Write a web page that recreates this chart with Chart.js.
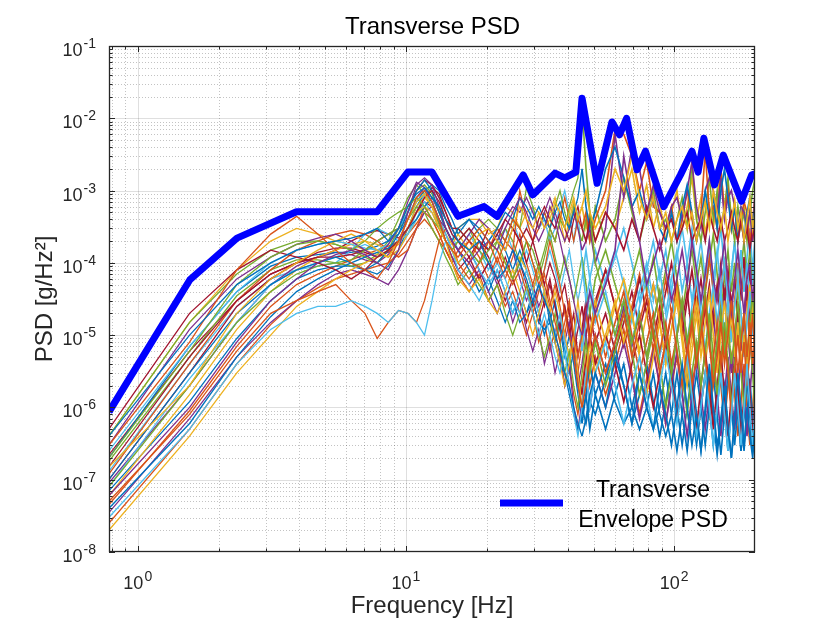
<!DOCTYPE html>
<html>
<head>
<meta charset="utf-8">
<title>Transverse PSD</title>
<script src="https://cdn.jsdelivr.net/npm/chart.js@4.4.1/dist/chart.umd.min.js"></script>
<style>
  html, body { margin: 0; padding: 0; background: #ffffff; }
  canvas { display: block; }
</style>
</head>
<body>
<canvas id="psdChart" width="834" height="626" style="width:834px;height:626px"></canvas>
<script>
// ---------------- data ----------------
const freqs = [
  0.78, 1.56, 2.34, 3.13, 3.91, 4.69, 5.47, 6.25, 7.03, 7.81, 8.59, 9.38, 10.16, 10.94, 11.72, 12.5, 13.28, 14.06, 14.84,
  15.63, 17.19, 18.75, 20.31, 21.88, 23.44, 25, 26.56, 28.13, 29.69, 31.25, 32.81, 34.38, 35.94, 37.5, 39.06, 40.63, 42.19, 43.75, 45.31, 46.88, 48.44,
  50.78, 55.47, 60.16, 64.84, 69.53, 74.22, 78.91, 83.59, 88.28, 92.97, 97.66, 102.34, 107.03, 111.72, 116.41, 121.09, 125.78,
  130.47, 135.16, 139.84, 144.53, 149.22, 153.91, 158.59, 163.28, 167.97, 172.66, 177.34, 182.03, 186.72, 191.41, 196.09, 200
];

const envFreqs = [0.78125, 1.5625, 2.34375, 3.90625, 7.8125, 10.15625, 12.5, 15.625, 19.53, 21.88, 27.34, 29.69, 35.94, 39.06, 42.97, 45.31,
  51.56, 58.59, 62.5, 66.41, 72.66, 78.13, 91.41, 105.47, 116.41, 122.66, 128.91, 141.41, 152.34, 178.13, 194.53, 200];
const envValues = [8.7e-7, 5.8e-5, 2.2e-4, 5.1e-4, 5.1e-4, 1.8e-3, 1.8e-3, 4.4e-4, 6e-4, 4.4e-4, 1.65e-3, 8.7e-4, 1.74e-3, 1.5e-3, 1.8e-3, 1.9e-2,
  1.26e-3, 8.9e-3, 5.9e-3, 1e-2, 1.94e-3, 3.5e-3, 6e-4, 1.65e-3, 3.5e-3, 1.8e-3, 5.3e-3, 1.2e-3, 3.1e-3, 7.1e-4, 1.65e-3, 1.7e-3];

const psd01 = [
  4e-7, 1e-5, 5e-5, 1e-4, 1.5e-4, 1.8e-4, 2e-4, 2.2e-4, 2.5e-4, 3e-4, 2e-4, 3e-4, 6e-4, 9e-4, 1.1e-3, 8e-4, 6e-4, 4e-4, 3e-4,
  2e-4, 1.5e-4, 2e-4, 1e-4, 6e-5, 8e-5, 1.5e-4, 1e-4, 6e-5, 3e-5, 5e-5, 3e-5, 2e-5, 1e-5, 6e-6, 3e-6, 2e-6, 1e-6, 6e-7, 4e-7, 7e-7, 1.5e-6,
  3e-6, 1e-6, 5e-6, 2e-6, 6e-7, 3e-6, 1e-6, 5e-7, 2e-6, 8e-7, 3e-7, 1e-6, 4e-6, 1e-6, 3e-7, 8e-7, 2.5e-7,
  1e-6, 4e-6, 1e-6, 3e-7, 6e-7, 2e-6, 5e-7, 2e-7, 8e-7, 3e-6, 1e-6, 3e-7, 1e-6, 4e-7, 2e-7, 6e-7
];
const psd02 = [
  3e-7, 8e-6, 8e-5, 2.5e-4, 4.4e-4, 2.5e-4, 1.5e-4, 1e-4, 8e-5, 6e-5, 1e-4, 2e-4, 4e-4, 8e-4, 1e-3, 7e-4, 4e-4, 2e-4, 1.5e-4,
  1.2e-4, 2e-4, 3e-4, 2e-4, 1e-4, 2e-4, 4e-4, 3e-4, 2e-4, 1e-4, 5e-5, 8e-5, 2e-4, 1e-4, 5e-5, 2e-5, 1e-5, 5e-6, 2e-6, 1e-6, 2e-6, 5e-6,
  1e-5, 3e-6, 8e-6, 2e-5, 5e-6, 1.5e-5, 4e-5, 1e-5, 3e-6, 8e-6, 2e-5, 6e-6, 2e-6, 6e-6, 1.5e-5, 4e-6, 1e-5,
  3e-5, 8e-6, 2e-6, 5e-6, 1.5e-5, 4e-6, 1e-5, 3e-5, 1e-5, 3e-6, 8e-6, 2e-5, 5e-6, 1.5e-5, 4e-6, 1e-5
];
const psd03 = [
  1.5e-7, 2e-6, 2e-5, 6e-5, 1e-4, 1.5e-4, 2e-4, 2.5e-4, 2e-4, 1.5e-4, 1.2e-4, 2e-4, 4e-4, 7e-4, 9e-4, 6e-4, 3e-4, 2e-4, 1.5e-4,
  1e-4, 1.5e-4, 2.5e-4, 3e-4, 2e-4, 1.5e-4, 3e-4, 6e-4, 4e-4, 3e-4, 5e-4, 3e-4, 4e-4, 7e-4, 5e-4, 3e-4, 5e-4, 8e-4, 4e-4, 6e-4, 1e-3, 5e-4,
  3e-4, 6e-4, 2e-3, 1e-3, 3e-3, 8e-4, 4e-4, 8e-4, 3e-4, 5e-4, 2e-4, 4e-4, 6e-4, 3e-4, 5e-4, 2e-4, 4e-4,
  7e-4, 3e-4, 1e-3, 5e-4, 3e-4, 6e-4, 2e-4, 4e-4, 7e-4, 3e-4, 5e-4, 2e-4, 4e-4, 8e-4, 3e-4, 5e-4
];
const psd04 = [
  6e-8, 1e-6, 8e-6, 3e-5, 6e-5, 1e-4, 1.3e-4, 1.5e-4, 1.3e-4, 1e-4, 8e-5, 1.5e-4, 5e-4, 1.2e-3, 1.5e-3, 1.2e-3, 6e-4, 3e-4, 2e-4,
  1.5e-4, 1e-4, 1.5e-4, 2e-4, 1.5e-4, 3e-4, 5e-4, 8e-4, 5e-4, 3e-4, 2e-4, 3e-4, 6e-4, 4e-4, 2e-4, 1e-4, 6e-5, 3e-5, 1.5e-5, 1e-5, 2e-5, 4e-5,
  2e-5, 5e-5, 1.5e-4, 3e-3, 6e-4, 2e-4, 5e-5, 1e-4, 2e-4, 8e-5, 3e-5, 6e-5, 1.5e-4, 5e-5, 2e-4, 8e-5, 3e-5,
  7e-5, 2e-4, 6e-5, 3e-5, 8e-5, 2e-4, 5e-5, 2e-5, 6e-5, 1.5e-4, 5e-5, 2e-5, 6e-5, 1e-4, 3e-5, 7e-5
];
const psd05 = [
  2e-7, 6e-6, 5e-5, 1.2e-4, 1.8e-4, 2e-4, 1.8e-4, 1.5e-4, 2e-4, 3e-4, 4e-4, 5e-4, 6e-4, 8e-4, 6e-4, 4e-4, 3e-4, 2e-4, 1.5e-4,
  2e-4, 1.5e-4, 1e-4, 1.5e-4, 2e-4, 1e-4, 6e-5, 1e-4, 2e-4, 1.5e-4, 8e-5, 1.5e-4, 3e-4, 2e-4, 4e-4, 3e-4, 6e-4, 1e-3, 1.5e-3, 1.5e-2, 2e-3, 5e-4,
  1e-4, 3e-5, 1e-5, 3e-5, 8e-6, 2e-5, 5e-6, 1.5e-5, 4e-5, 1e-5, 3e-6, 1e-5, 3e-5, 8e-6, 2e-5, 5e-6, 1.5e-5,
  4e-5, 1e-5, 3e-6, 8e-6, 2e-5, 6e-6, 1.5e-5, 4e-6, 1e-5, 3e-5, 8e-6, 2e-5, 5e-6, 1.5e-5, 4e-5, 1e-5
];
const psd06 = [
  3e-8, 5e-7, 4e-6, 1.2e-5, 2e-5, 2.5e-5, 2.5e-5, 3e-5, 2.5e-5, 2e-5, 1.5e-5, 2.2e-5, 2e-5, 1.5e-5, 1e-5, 3e-5, 1e-4, 2e-4, 1.5e-4,
  8e-5, 5e-5, 3e-5, 6e-5, 1e-4, 6e-5, 3e-5, 2e-5, 4e-5, 2e-5, 1e-5, 2e-5, 1e-5, 5e-6, 3e-6, 6e-6, 2e-6, 8e-7, 4e-7, 1e-6, 3e-6, 1e-6,
  3e-6, 8e-6, 2e-6, 6e-7, 2e-6, 5e-6, 1.5e-6, 5e-7, 2e-6, 6e-6, 2e-6, 6e-7, 2e-6, 5e-6, 1.5e-6, 4e-7, 1e-6,
  3e-6, 1e-6, 3e-7, 1e-6, 3e-6, 8e-7, 2.5e-7, 8e-7, 3e-6, 1e-6, 3e-7, 1e-6, 4e-6, 1e-6, 3e-7, 1e-6
];
const psd07 = [
  5e-7, 2e-5, 8e-5, 1.5e-4, 1.2e-4, 1e-4, 8e-5, 6e-5, 8e-5, 1.2e-4, 1.5e-4, 2e-4, 3e-4, 5e-4, 8e-4, 1e-3, 7e-4, 4e-4, 2.5e-4,
  2e-4, 3e-4, 2e-4, 1.5e-4, 2.5e-4, 4e-4, 3e-4, 2e-4, 3e-4, 2e-4, 4e-4, 6e-4, 4e-4, 3e-4, 5e-4, 3e-4, 2e-4, 4e-4, 6e-4, 3e-4, 2e-4, 4e-4,
  2e-4, 5e-4, 3e-4, 1.5e-4, 4e-4, 2e-4, 6e-4, 3e-4, 1.5e-4, 3e-4, 4e-4, 2e-4, 3e-4, 5e-4, 2e-4, 3e-4, 4e-4,
  2e-4, 5e-4, 3e-4, 2e-4, 4e-4, 2e-4, 3e-4, 5e-4, 3e-4, 2e-4, 4e-4, 2e-4, 3e-4, 1.5e-4, 3e-4, 2e-4
];
const psd08 = [
  1e-7, 3e-6, 2e-5, 5e-5, 8e-5, 1e-4, 1.2e-4, 1e-4, 8e-5, 1e-4, 1.5e-4, 2.5e-4, 5e-4, 1e-3, 1.4e-3, 1e-3, 5e-4, 3e-4, 2e-4,
  3e-4, 4e-4, 3e-4, 2e-4, 3e-4, 5e-4, 4e-4, 8e-4, 6e-4, 4e-4, 6e-4, 4e-4, 3e-4, 5e-4, 7e-4, 4e-4, 3e-4, 5e-4, 8e-4, 2e-3, 6e-4, 3e-4,
  5e-4, 2e-3, 4e-3, 1.5e-3, 6e-4, 1e-3, 4e-4, 8e-4, 3e-4, 2e-4, 5e-4, 2e-4, 6e-4, 1.2e-3, 5e-4, 2e-4, 4e-4,
  1e-3, 4e-4, 8e-4, 3e-4, 1e-3, 2e-3, 8e-4, 3e-4, 6e-4, 2e-4, 5e-4, 2e-4, 5e-4, 8e-4, 3e-4, 6e-4
];
const psd09 = [
  5e-8, 8e-7, 6e-6, 2e-5, 3e-5, 4e-5, 5e-5, 3e-5, 2e-5, 9e-6, 1.5e-5, 2.2e-5, 2e-5, 1.5e-5, 3e-5, 8e-5, 2e-4, 3e-4, 2e-4,
  1e-4, 6e-5, 1e-4, 2e-4, 1.5e-4, 8e-5, 5e-5, 8e-5, 4e-5, 2e-5, 4e-5, 7e-5, 3e-5, 1.5e-5, 8e-6, 1.5e-5, 3e-5, 1e-5, 5e-6, 1e-5, 2e-5, 8e-6,
  2e-5, 5e-6, 1.5e-5, 4e-5, 1e-5, 3e-6, 8e-6, 2e-5, 6e-6, 1.5e-5, 4e-6, 1e-5, 3e-5, 8e-6, 2e-6, 5e-6, 1.5e-5,
  5e-6, 1.5e-6, 5e-6, 1.5e-5, 4e-6, 1e-5, 3e-6, 8e-7, 3e-6, 1e-5, 3e-6, 8e-6, 2e-6, 6e-6, 2e-5, 5e-6
];
const psd10 = [
  2e-8, 4e-7, 3e-6, 1e-5, 2.5e-5, 4e-5, 6e-5, 8e-5, 1e-4, 1.2e-4, 1.5e-4, 2e-4, 3e-4, 5e-4, 6e-4, 5e-4, 3e-4, 2e-4, 1e-4,
  6e-5, 4e-5, 6e-5, 3e-5, 2e-5, 4e-5, 8e-5, 4e-5, 2e-5, 1e-5, 2e-5, 4e-5, 2e-5, 8e-6, 4e-6, 2e-6, 4e-6, 1e-5, 3e-6, 1e-6, 3e-6, 8e-6,
  3e-6, 1e-5, 3e-5, 8e-6, 2e-5, 5e-6, 1.5e-6, 5e-6, 1.5e-5, 4e-6, 1.2e-5, 3e-5, 8e-6, 2e-6, 6e-6, 2e-5, 5e-6,
  1.5e-5, 4e-5, 1e-5, 3e-6, 1e-5, 3e-5, 8e-6, 2e-5, 5e-6, 1.5e-5, 4e-6, 1e-5, 3e-6, 1e-5, 3e-5, 8e-6
];
const psd11 = [
  3e-7, 1.2e-5, 6e-5, 1.2e-4, 1.8e-4, 2.2e-4, 2.5e-4, 2e-4, 1.5e-4, 1.2e-4, 1.8e-4, 3e-4, 7e-4, 1.3e-3, 1.1e-3, 7e-4, 4e-4, 3e-4, 2e-4,
  1.5e-4, 2.5e-4, 4e-4, 3e-4, 2e-4, 4e-4, 6e-4, 5e-4, 8e-4, 5e-4, 3e-4, 5e-4, 8e-4, 5e-4, 3e-4, 2e-4, 3e-4, 5e-4, 3e-4, 1.5e-4, 2e-4, 3e-4,
  1e-4, 3e-4, 6e-3, 8e-4, 4e-3, 2e-3, 5e-4, 1.2e-3, 5e-4, 3e-4, 6e-4, 8e-4, 4e-4, 1e-3, 2.5e-3, 6e-4, 3e-4,
  1e-3, 1.5e-3, 1e-3, 5e-4, 1.5e-3, 4e-4, 8e-4, 1e-3, 6e-4, 3e-4, 6e-4, 5e-4, 3e-4, 5e-4, 2e-4, 1e-3
];
const psd12 = [
  8e-8, 2e-6, 1.5e-5, 4e-5, 7e-5, 9e-5, 1e-4, 1.1e-4, 1.5e-4, 2e-4, 2.5e-4, 3e-4, 4e-4, 6e-4, 5e-4, 3e-4, 2e-4, 1.2e-4, 8e-5,
  5e-5, 8e-5, 5e-5, 3e-5, 5e-5, 2e-5, 1e-5, 2e-5, 5e-5, 2e-5, 1e-5, 5e-6, 1e-5, 2e-5, 8e-6, 3e-6, 6e-6, 2e-6, 1e-6, 3e-6, 8e-6, 3e-6,
  8e-6, 2e-6, 6e-6, 2e-5, 6e-6, 1.5e-6, 4e-6, 1.2e-5, 4e-6, 1e-6, 3e-6, 1e-5, 3e-6, 8e-7, 3e-6, 8e-6, 2e-6,
  6e-6, 2e-5, 5e-6, 1.5e-6, 5e-6, 1.5e-5, 4e-6, 1e-6, 4e-6, 1.2e-5, 3e-6, 1e-6, 3e-6, 1e-5, 3e-6, 8e-7
];
const psd13 = [
  1.5e-7, 5e-6, 3e-5, 7e-5, 1e-4, 1.2e-4, 1.2e-4, 1.3e-4, 1.5e-4, 2e-4, 2.5e-4, 3e-4, 5e-4, 1e-3, 1.4e-3, 1.2e-3, 8e-4, 5e-4, 3e-4,
  3e-4, 2e-4, 1.5e-4, 3e-4, 2e-4, 1.5e-4, 3e-4, 2e-4, 1e-4, 2e-4, 1e-4, 5e-5, 1e-4, 6e-5, 3e-5, 5e-5, 2e-5, 8e-6, 3e-6, 1.5e-6, 4e-6, 1e-5,
  4e-6, 1e-5, 4e-6, 1.2e-6, 4e-6, 1e-5, 3e-6, 1e-6, 3e-6, 8e-6, 2.5e-6, 7e-7, 2e-6, 6e-6, 2e-6, 5e-7, 2e-6,
  6e-6, 2e-6, 5e-7, 2e-6, 6e-6, 1.5e-6, 4e-7, 1.5e-6, 5e-6, 1.5e-6, 4e-7, 1.5e-6, 5e-6, 1.5e-6, 4e-7, 1.5e-6
];
const psd14 = [
  2.5e-7, 7e-6, 4e-5, 1e-4, 1.5e-4, 1.8e-4, 2e-4, 1.8e-4, 1.6e-4, 1.5e-4, 1.8e-4, 3e-4, 5e-4, 7e-4, 9e-4, 7e-4, 4e-4, 2.5e-4, 1.5e-4,
  1e-4, 1.5e-4, 8e-5, 5e-5, 8e-5, 4e-5, 2e-5, 4e-5, 8e-5, 4e-5, 2e-5, 4e-5, 2e-5, 1e-5, 2e-5, 8e-6, 4e-6, 8e-6, 2e-5, 6e-6, 1.5e-5, 4e-5,
  1.5e-5, 4e-5, 1e-5, 3e-5, 8e-6, 2.5e-5, 6e-5, 2e-5, 5e-6, 1.5e-5, 4e-5, 1e-5, 3e-5, 8e-6, 2.5e-5, 6e-5, 2e-5,
  6e-6, 2e-5, 5e-5, 1.5e-5, 4e-5, 1e-5, 3e-5, 8e-6, 2.5e-5, 6e-5, 2e-5, 5e-6, 1.5e-5, 4e-5, 1e-5, 3e-5
];
const psd15 = [
  4e-8, 6e-7, 5e-6, 1.8e-5, 4e-5, 6e-5, 8e-5, 1e-4, 1.2e-4, 1.4e-4, 1.6e-4, 2e-4, 3e-4, 4e-4, 6e-4, 8e-4, 6e-4, 3e-4, 2e-4,
  1.5e-4, 8e-5, 4e-5, 6e-5, 3e-5, 1.5e-5, 3e-5, 1.5e-5, 2e-5, 3e-5, 1.5e-5, 1.2e-5, 1.5e-5, 8e-6, 4e-6, 3e-6, 1.5e-6, 8e-7, 5e-7, 8e-7, 1.5e-6, 5e-7,
  1.5e-6, 5e-7, 1.5e-6, 4e-6, 1e-6, 5e-7, 1e-6, 3e-6, 8e-7, 4e-7, 8e-7, 3e-6, 8e-7, 2.5e-7, 1e-6, 3e-6, 1e-6,
  3e-7, 1e-6, 3e-6, 8e-7, 2.2e-7, 8e-7, 3e-6, 1e-6, 3e-7, 1e-6, 2.5e-7, 8e-7, 3e-6, 8e-7, 2.5e-7, 4e-7
];
const psd16 = [
  1.2e-7, 4e-6, 3e-5, 8e-5, 1.5e-4, 2e-4, 2.5e-4, 2.8e-4, 2.5e-4, 2e-4, 1.5e-4, 1.2e-4, 1.5e-4, 3e-4, 6e-4, 4e-4, 2.5e-4, 1.5e-4, 1e-4,
  6e-5, 1e-4, 2e-4, 1.5e-4, 3e-4, 2e-4, 1.5e-4, 1e-3, 4e-4, 2e-4, 3e-4, 5e-4, 3e-4, 2e-4, 4e-4, 8e-4, 4e-4, 2e-4, 4e-4, 3e-4, 5e-4, 2e-4,
  4e-4, 1e-3, 7e-3, 6e-3, 3e-3, 1e-3, 2.5e-3, 6e-4, 5e-4, 3e-4, 6e-4, 2e-4, 4e-4, 1e-3, 4e-4, 2e-4, 5e-4,
  3.5e-3, 5e-4, 6e-4, 3e-4, 2e-3, 5e-4, 1e-3, 3e-4, 6e-4, 2e-4, 4e-4, 7e-4, 5e-4, 2e-4, 4e-4, 8e-4
];
const psd17 = [
  6e-8, 1.5e-6, 1.2e-5, 4e-5, 8e-5, 1.2e-4, 1.5e-4, 1.8e-4, 2e-4, 1.8e-4, 1.5e-4, 1.8e-4, 3e-4, 6e-4, 8e-4, 6e-4, 4e-4, 2.5e-4, 1.8e-4,
  2.5e-4, 1.5e-4, 1e-4, 2e-4, 1.5e-4, 1e-4, 6e-5, 1.2e-4, 8e-5, 4e-5, 8e-5, 4e-5, 2e-5, 4e-5, 2e-5, 1e-5, 5e-6, 1e-5, 3e-5, 1e-5, 4e-6, 1e-5,
  3e-5, 8e-6, 2.5e-5, 6e-5, 2e-5, 6e-6, 2e-5, 5e-5, 1.5e-5, 4e-6, 1.2e-5, 4e-5, 1e-5, 3e-6, 1e-5, 3e-5, 1e-5,
  4e-6, 1.2e-5, 4e-5, 1e-5, 3e-6, 1e-5, 3e-5, 8e-6, 2.5e-5, 6e-5, 2e-5, 6e-6, 2e-5, 5e-5, 1.5e-5, 5e-6
];
const psd18 = [
  3.5e-8, 7e-7, 5e-6, 1.5e-5, 3e-5, 5e-5, 7e-5, 8e-5, 7e-5, 6e-5, 5e-5, 8e-5, 1.5e-4, 3e-4, 5e-4, 6e-4, 4e-4, 2e-4, 1.2e-4,
  8e-5, 5e-5, 8e-5, 4e-5, 2e-5, 4e-5, 1.5e-5, 3e-5, 1.2e-5, 6e-6, 1.2e-5, 4e-6, 8e-6, 3e-6, 6e-6, 2e-6, 4e-6, 1e-6, 5e-7, 1.2e-6, 3e-6, 1e-6,
  3e-6, 1e-6, 3e-6, 8e-6, 2.5e-6, 7e-7, 2e-6, 6e-6, 2e-6, 6e-7, 2e-6, 6e-6, 1.5e-6, 4e-7, 1.5e-6, 5e-6, 1.5e-6,
  5e-7, 1.5e-6, 5e-6, 1.5e-6, 4e-7, 1.5e-6, 5e-6, 1.5e-6, 5e-7, 1.5e-6, 5e-6, 1.5e-6, 4e-7, 1.5e-6, 5e-6, 1.5e-6
];
const psd19 = [
  4e-7, 1.5e-5, 7e-5, 1.5e-4, 2e-4, 2e-4, 1.8e-4, 1.5e-4, 1.2e-4, 1e-4, 1.5e-4, 3e-4, 6e-4, 1e-3, 1.2e-3, 9e-4, 5e-4, 3e-4, 2e-4,
  3e-4, 2e-4, 3e-4, 4e-4, 3e-4, 2e-4, 4e-4, 3e-4, 1.1e-3, 6e-4, 3e-4, 5e-4, 3e-4, 6e-4, 1e-3, 5e-4, 3e-4, 6e-4, 3e-4, 2e-4, 4e-4, 2e-4,
  6e-4, 2e-4, 4e-4, 1.5e-3, 5e-4, 2e-4, 5e-4, 1e-3, 3e-4, 4e-4, 2e-4, 4e-4, 8e-4, 3e-4, 2.5e-3, 4e-4, 2e-4,
  5e-4, 1.5e-3, 4e-4, 1e-3, 3e-4, 6e-4, 1.5e-3, 4e-4, 2e-4, 6e-4, 3e-4, 5e-4, 2e-4, 5e-4, 1e-3, 1.5e-3
];
const psd20 = [
  8e-8, 2.5e-6, 1.5e-5, 5e-5, 8e-5, 9e-5, 1e-4, 1.5e-4, 2.5e-4, 3e-4, 2.5e-4, 2e-4, 2.5e-4, 4e-4, 7e-4, 5e-4, 3e-4, 2e-4, 1.5e-4,
  1e-4, 1.5e-4, 1e-4, 2e-4, 3e-4, 2e-4, 4e-4, 2e-4, 3e-4, 6e-4, 3e-4, 4e-4, 2e-4, 3e-4, 6e-4, 1e-3, 5e-4, 2e-4, 5e-4, 1e-4, 3e-5, 6e-5,
  2e-5, 6e-5, 1.5e-4, 5e-5, 1.5e-5, 4e-5, 1e-4, 3e-5, 8e-5, 2e-5, 6e-5, 1.5e-4, 4e-5, 1e-4, 3e-4, 8e-5, 2.5e-5,
  7e-5, 2e-4, 6e-5, 1.5e-4, 4e-5, 1e-4, 3e-5, 8e-5, 2e-4, 5e-5, 1.5e-4, 4e-5, 1e-4, 3e-5, 6e-5, 2e-4
];
const psd21 = [
  1e-7, 3e-6, 2.5e-5, 6e-5, 1e-4, 1.4e-4, 1.6e-4, 1.6e-4, 1.4e-4, 1.2e-4, 1.4e-4, 2e-4, 3e-4, 5e-4, 8e-4, 1.1e-3, 9e-4, 5e-4, 3e-4,
  2e-4, 1.2e-4, 6e-5, 1e-4, 6e-5, 3e-5, 6e-5, 3e-5, 1.5e-5, 3e-5, 1.5e-5, 3e-5, 6e-5, 2.5e-5, 1.2e-5, 2.5e-5, 1e-5, 2e-5, 5e-6, 1.2e-5, 3e-5, 1e-5,
  3e-5, 8e-5, 2.5e-5, 7e-6, 2e-5, 6e-5, 2e-5, 5e-5, 1.5e-5, 4e-5, 1e-4, 3e-5, 1e-5, 3e-5, 8e-5, 2.5e-5, 6e-5,
  2e-5, 5e-5, 1.5e-5, 4e-5, 1e-4, 3e-5, 8e-5, 2.5e-5, 6e-5, 1.5e-5, 4e-5, 1.2e-4, 3e-5, 8e-5, 2e-5, 5e-5
];
const psd22 = [
  2e-7, 7e-6, 4e-5, 9e-5, 1.2e-4, 1.3e-4, 1.4e-4, 1.4e-4, 1.5e-4, 1.7e-4, 2e-4, 2.5e-4, 4e-4, 7e-4, 1e-3, 1.2e-3, 1e-3, 6e-4, 4e-4,
  2.5e-4, 4e-4, 2.5e-4, 1.5e-4, 2.5e-4, 1.5e-4, 8e-5, 1.5e-4, 8e-5, 4e-5, 8e-5, 4e-5, 1.5e-5, 3e-5, 1.2e-5, 5e-6, 1e-5, 4e-6, 1.5e-6, 6e-7, 1.5e-6, 4e-6,
  1.5e-6, 4e-6, 1.2e-6, 6e-7, 1e-6, 3e-6, 1e-6, 5e-7, 1e-6, 3e-6, 8e-7, 2.5e-7, 8e-7, 3e-6, 1e-6, 3e-7, 1e-6,
  3e-6, 1e-6, 3e-7, 1e-6, 3e-6, 8e-7, 2.5e-7, 1e-6, 3e-6, 8e-7, 2.5e-7, 8e-7, 2.5e-6, 8e-7, 2.5e-7, 3e-7
];
const psd23 = [
  2.5e-8, 5e-7, 4e-6, 1.4e-5, 3e-5, 4.5e-5, 6e-5, 7e-5, 8e-5, 9e-5, 1e-4, 1.3e-4, 2e-4, 3e-4, 4e-4, 3e-4, 2e-4, 1.5e-4, 1e-4,
  1.5e-4, 2e-4, 1.2e-4, 6e-5, 1.2e-4, 6e-5, 1.2e-4, 2.5e-4, 1e-4, 5e-5, 1e-4, 5e-5, 2.5e-5, 5e-5, 2.5e-5, 1e-5, 2.5e-5, 8e-6, 3e-6, 8e-6, 2.5e-5, 8e-6,
  2.5e-5, 8e-5, 2.5e-5, 8e-6, 2.5e-5, 7e-5, 2e-5, 6e-6, 2e-5, 6e-5, 2e-5, 5e-5, 1.5e-5, 5e-6, 1.5e-5, 5e-5, 1.5e-5,
  4e-5, 1.2e-4, 4e-5, 1.2e-5, 4e-5, 1e-4, 3e-5, 1e-5, 3e-5, 1e-4, 3e-5, 8e-5, 2.5e-5, 7e-6, 2e-5, 6e-5
];
const psd24 = [
  4e-7, 1.5e-5, 8e-5, 2e-4, 3e-4, 2.5e-4, 2e-4, 1.8e-4, 1.5e-4, 1.3e-4, 1.2e-4, 1.5e-4, 2.5e-4, 4e-4, 6e-4, 8e-4, 6e-4, 4e-4, 3e-4,
  3e-4, 4e-4, 4e-4, 2.5e-4, 3e-4, 6e-4, 5e-4, 3e-4, 5e-4, 6e-4, 5e-4, 3e-4, 5e-4, 8e-4, 4e-4, 2e-4, 4e-4, 7e-4, 4e-4, 6e-4, 3e-4, 5e-4,
  2e-4, 5e-4, 3e-4, 8e-4, 2e-3, 5e-4, 1.2e-3, 3e-4, 7e-4, 2e-4, 5e-4, 1e-3, 3e-4, 6e-4, 1.5e-3, 4e-4, 8e-4,
  2.5e-4, 6e-4, 3e-4, 8e-4, 2e-3, 5e-4, 1e-3, 3e-4, 7e-4, 2e-4, 4e-4, 6e-4, 3e-4, 5e-4, 2e-4, 6e-4
];
const psd25 = [
  9e-8, 2e-6, 1.5e-5, 5e-5, 9e-5, 1.2e-4, 1.4e-4, 1.3e-4, 1.1e-4, 1e-4, 1.3e-4, 2e-4, 4e-4, 8e-4, 1.1e-3, 8e-4, 5e-4, 3e-4, 2e-4,
  1.5e-4, 1e-4, 6e-5, 1e-4, 5e-5, 8e-5, 1.5e-4, 6e-5, 3e-5, 5e-5, 2.5e-5, 4e-5, 2e-5, 1e-5, 2e-5, 8e-6, 1.5e-5, 5e-6, 2e-6, 4e-6, 1e-5, 4e-6,
  1e-5, 3e-6, 8e-6, 2.5e-5, 7e-6, 2e-5, 5e-6, 1.5e-5, 4e-5, 1e-5, 3e-6, 1e-5, 2.5e-5, 6e-6, 1.5e-5, 4e-6, 1.2e-5,
  3e-5, 8e-6, 2e-5, 5e-6, 1.5e-5, 4e-5, 1e-5, 3e-6, 8e-6, 2e-5, 6e-6, 1.5e-5, 4e-5, 1e-5, 3e-6, 8e-6
];
const psd26 = [
  1.8e-7, 5e-6, 3.5e-5, 8e-5, 1.1e-4, 1.1e-4, 1e-4, 9e-5, 1e-4, 1.3e-4, 2e-4, 4e-4, 8e-4, 1.2e-3, 9e-4, 6e-4, 3.5e-4, 2e-4, 1.5e-4,
  2e-4, 3e-4, 1.5e-4, 1e-4, 2e-4, 3e-4, 2e-4, 1e-4, 2e-4, 1e-4, 6e-5, 1.2e-4, 2.5e-4, 1.2e-4, 6e-5, 1.2e-4, 6e-5, 3e-5, 6e-5, 1.2e-4, 5e-5, 2e-5,
  6e-5, 1.5e-4, 5e-5, 2e-5, 6e-5, 1.5e-4, 4e-5, 1.2e-4, 3e-5, 8e-5, 2e-4, 6e-5, 2e-5, 6e-5, 1.5e-4, 5e-5, 1.2e-4,
  4e-5, 1e-4, 2.5e-4, 7e-5, 2e-5, 6e-5, 1.5e-4, 4e-5, 1e-4, 3e-5, 8e-5, 2e-4, 6e-5, 1.5e-4, 5e-5, 1.2e-4
];
const psd27 = [
  4.5e-8, 9e-7, 7e-6, 2.5e-5, 5e-5, 7e-5, 9e-5, 1.1e-4, 1.3e-4, 1.5e-4, 1.7e-4, 2e-4, 2.5e-4, 3.5e-4, 5e-4, 4e-4, 2.5e-4, 1.5e-4, 1e-4,
  7e-5, 4e-5, 7e-5, 3e-5, 5e-5, 2.5e-5, 4e-5, 2e-5, 1e-5, 2e-5, 8e-6, 1.5e-5, 6e-6, 1.2e-5, 5e-6, 2e-6, 4e-6, 1.5e-6, 8e-7, 2e-6, 5e-6, 2e-6,
  5e-6, 1.5e-6, 4e-6, 1.2e-5, 3e-6, 8e-7, 2.5e-6, 7e-6, 2e-6, 6e-7, 2e-6, 5e-6, 1.5e-6, 4e-6, 1.2e-6, 3.5e-7, 1e-6,
  3e-6, 8e-7, 2.5e-6, 7e-6, 2e-6, 6e-7, 2e-6, 5e-6, 1.5e-6, 4e-7, 1.2e-6, 4e-6, 1e-6, 3e-7, 1e-6, 3e-6
];
const psd28 = [
  2.2e-7, 6e-6, 3e-5, 7e-5, 1e-4, 1.2e-4, 1.5e-4, 2e-4, 2.5e-4, 2.8e-4, 2.5e-4, 2.2e-4, 3e-4, 5e-4, 7e-4, 6e-4, 3.5e-4, 2e-4, 1.2e-4,
  8e-5, 1.2e-4, 2e-4, 1.2e-4, 6e-5, 1.2e-4, 6e-5, 1e-4, 5e-5, 2.5e-5, 5e-5, 2.5e-5, 5e-5, 2.5e-5, 1.2e-5, 2.5e-5, 1.2e-5, 6e-6, 1.2e-5, 2.5e-5, 1e-5, 2e-5,
  8e-6, 2e-5, 6e-6, 1.5e-5, 4e-5, 1.2e-5, 3e-5, 9e-6, 2.5e-5, 7e-6, 2e-5, 5e-5, 1.5e-5, 4e-5, 1e-5, 3e-5, 8e-6,
  2.5e-5, 7e-6, 2e-5, 5e-5, 1.5e-5, 4e-5, 1.2e-5, 3e-5, 9e-6, 2.5e-5, 7e-6, 2e-5, 5e-5, 1.5e-5, 4e-5, 1.2e-5
];
const psd29 = [
  7e-8, 1.2e-6, 9e-6, 3e-5, 6e-5, 8e-5, 9e-5, 9e-5, 8e-5, 7e-5, 9e-5, 1.5e-4, 3e-4, 6e-4, 9e-4, 7e-4, 4e-4, 2.5e-4, 1.5e-4,
  1e-4, 1.5e-4, 8e-5, 4e-5, 8e-5, 4e-5, 2e-5, 4e-5, 2e-5, 4e-5, 2e-5, 1e-5, 2e-5, 8e-6, 1.5e-5, 6e-6, 3e-6, 6e-6, 2e-6, 1e-6, 6e-7, 1.2e-6,
  8e-7, 2.5e-6, 7e-6, 2e-6, 6e-7, 1.5e-6, 4e-6, 1.2e-6, 4e-7, 1.2e-6, 3.5e-6, 1e-6, 3e-7, 1e-6, 3e-6, 8e-7, 2.5e-7,
  8e-7, 2.5e-6, 7e-7, 2.2e-7, 7e-7, 2e-6, 6e-7, 2e-7, 6e-7, 2e-6, 6e-7, 2.5e-7, 8e-7, 2.5e-6, 7e-7, 2.5e-7
];
const psd30 = [
  1.3e-7, 4e-6, 2.5e-5, 6e-5, 8e-5, 1e-4, 1.2e-4, 1.5e-4, 1.8e-4, 1.5e-4, 1.2e-4, 1.5e-4, 2.5e-4, 5e-4, 9e-4, 1.2e-3, 8e-4, 4e-4, 2.5e-4,
  1.5e-4, 2.5e-4, 1.5e-4, 8e-5, 1.5e-4, 3e-4, 1.5e-4, 8e-5, 1.5e-4, 8e-5, 4e-5, 8e-5, 1.5e-4, 8e-5, 4e-5, 8e-5, 1.5e-4, 6e-5, 3e-5, 6e-5, 1.5e-4, 6e-5,
  1.5e-4, 5e-5, 1.2e-4, 3e-4, 1e-4, 3e-5, 8e-5, 2e-4, 6e-5, 1.5e-4, 4e-5, 1.2e-4, 3e-4, 1e-4, 3e-5, 8e-5, 2e-4,
  6e-5, 1.5e-4, 4e-5, 1.2e-4, 3e-4, 8e-5, 2.5e-5, 7e-5, 2e-4, 6e-5, 1.5e-4, 4e-5, 1.2e-4, 3e-4, 8e-5, 2e-4
];

// plotting order (colours follow MATLAB's default colour order by position)
const seriesValues = [psd01, psd02, psd03, psd04, psd05, psd06, psd07, psd08, psd09, psd10, psd11, psd12, psd14, psd13, psd15,
                      psd16, psd17, psd18, psd19, psd20, psd21, psd22, psd23, psd24, psd25, psd26, psd30, psd28, psd29, psd27];

const xTickValues = [1, 10, 100];
const xTickExponents = ['0', '1', '2'];
const yTickValues = [1e-8, 1e-7, 1e-6, 1e-5, 1e-4, 1e-3, 1e-2, 1e-1];
const yTickExponents = ['-8', '-7', '-6', '-5', '-4', '-3', '-2', '-1'];

const lineColors = ['#0072BD', '#D95319', '#EDB120', '#7E2F8E', '#77AC30', '#4DBEEE', '#A2142F'];
const envelopeLabel = ['Transverse', 'Envelope PSD'];

// ---------------- chart ----------------
const FONT = '"Liberation Sans", Arial, Helvetica, sans-serif';
const TEXT = '#262626';

const datasets = [{
  label: envelopeLabel.join(' '),
  data: envFreqs.map((f, i) => ({ x: f, y: envValues[i] })),
  borderColor: '#0000FF',
  borderWidth: 7,
  borderJoinStyle: 'round',
  borderCapStyle: 'butt',
  pointRadius: 0,
  tension: 0,
  fill: false,
  clip: 0
}];
seriesValues.forEach((vals, k) => {
  datasets.push({
    label: 'Record ' + (k + 1),
    data: freqs.map((f, i) => ({ x: f, y: vals[i] })),
    borderColor: lineColors[k % lineColors.length],
    borderWidth: 1.3,
    segment: { borderWidth: ctx => (ctx.p0.parsed.x >= 45 ? 1.6 : 1.3) },
    pointRadius: 0,
    tension: 0,
    fill: false,
    clip: 0
  });
});

function decadesBetween(min, max) {
  const out = [];
  for (let e = Math.floor(Math.log10(min)); e <= Math.ceil(Math.log10(max)); e++) {
    const v = Math.pow(10, e);
    if (v >= min * 0.999 && v <= max * 1.001) out.push(v);
  }
  return out;
}
function minorsBetween(min, max) {
  const out = [];
  for (let e = Math.floor(Math.log10(min)); e <= Math.floor(Math.log10(max)); e++) {
    for (let m = 2; m <= 9; m++) {
      const v = m * Math.pow(10, e);
      if (v > min * 1.001 && v < max * 0.999) out.push(v);
    }
  }
  return out;
}

function drawPower(ctx, exp, x, baseY, align) {
  ctx.font = '18px ' + FONT;
  const wb = ctx.measureText('10').width;
  ctx.font = '14px ' + FONT;
  const we = ctx.measureText(exp).width;
  const total = wb + 1 + we;
  const x0 = align === 'right' ? x - total : x - total / 2;
  ctx.textAlign = 'left';
  ctx.textBaseline = 'alphabetic';
  ctx.font = '18px ' + FONT;
  ctx.fillText('10', x0, baseY);
  ctx.font = '14px ' + FONT;
  ctx.fillText(exp, x0 + wb + 1, baseY - 8);
}

const matlabAxes = {
  id: 'matlabAxes',
  beforeDatasetsDraw(chart) {
    const { ctx, chartArea: a, scales: { x, y } } = chart;
    ctx.save();
    ctx.beginPath();
    ctx.rect(a.left, a.top, a.right - a.left, a.bottom - a.top);
    ctx.clip();
    ctx.lineWidth = 1;
    ctx.strokeStyle = 'rgba(38,38,38,0.28)';
    ctx.setLineDash([1, 2]);
    ctx.beginPath();
    minorsBetween(x.min, x.max).forEach(v => {
      const p = Math.round(x.getPixelForValue(v)) + 0.5;
      ctx.moveTo(p, a.top); ctx.lineTo(p, a.bottom);
    });
    minorsBetween(y.min, y.max).forEach(v => {
      const p = Math.round(y.getPixelForValue(v)) + 0.5;
      ctx.moveTo(a.left, p); ctx.lineTo(a.right, p);
    });
    ctx.stroke();
    ctx.setLineDash([]);
    ctx.strokeStyle = 'rgba(38,38,38,0.15)';
    ctx.beginPath();
    decadesBetween(x.min, x.max).forEach(v => {
      const p = Math.round(x.getPixelForValue(v)) + 0.5;
      ctx.moveTo(p, a.top); ctx.lineTo(p, a.bottom);
    });
    decadesBetween(y.min, y.max).forEach(v => {
      const p = Math.round(y.getPixelForValue(v)) + 0.5;
      ctx.moveTo(a.left, p); ctx.lineTo(a.right, p);
    });
    ctx.stroke();
    ctx.restore();
  },
  afterDatasetsDraw(chart) {
    const { ctx, chartArea: a, scales: { x, y } } = chart;
    ctx.save();
    ctx.strokeStyle = TEXT;
    ctx.lineWidth = 1;
    ctx.beginPath();
    const xt = (v, len) => {
      const p = Math.round(x.getPixelForValue(v)) + 0.5;
      ctx.moveTo(p, a.bottom); ctx.lineTo(p, a.bottom - len);
      ctx.moveTo(p, a.top); ctx.lineTo(p, a.top + len);
    };
    const yt = (v, len) => {
      const p = Math.round(y.getPixelForValue(v)) + 0.5;
      ctx.moveTo(a.left, p); ctx.lineTo(a.left + len, p);
      ctx.moveTo(a.right, p); ctx.lineTo(a.right - len, p);
    };
    decadesBetween(x.min, x.max).forEach(v => xt(v, 6));
    minorsBetween(x.min, x.max).forEach(v => xt(v, 3.5));
    decadesBetween(y.min, y.max).forEach(v => yt(v, 6));
    minorsBetween(y.min, y.max).forEach(v => yt(v, 3.5));
    ctx.stroke();
    ctx.lineWidth = 1.3;
    ctx.strokeRect(Math.round(a.left) + 0.5, Math.round(a.top) + 0.5,
                   Math.round(a.right - a.left) - 1, Math.round(a.bottom - a.top) - 1);
    ctx.fillStyle = TEXT;
    xTickValues.forEach((v, i) => drawPower(ctx, xTickExponents[i], x.getPixelForValue(v), a.bottom + 37, 'center'));
    yTickValues.forEach((v, i) => drawPower(ctx, yTickExponents[i], a.left - 13, y.getPixelForValue(v) + 10, 'right'));
    const ly = a.bottom - 49;
    ctx.strokeStyle = '#0000FF';
    ctx.lineWidth = 7;
    ctx.lineCap = 'butt';
    ctx.beginPath();
    ctx.moveTo(a.right - 255, ly); ctx.lineTo(a.right - 192, ly);
    ctx.stroke();
    ctx.fillStyle = '#000000';
    ctx.font = '23px ' + FONT;
    ctx.textAlign = 'center';
    ctx.textBaseline = 'alphabetic';
    ctx.fillText(envelopeLabel[0], a.right - 102, a.bottom - 55);
    ctx.fillText(envelopeLabel[1], a.right - 102, a.bottom - 25);
    ctx.restore();
  }
};

new Chart(document.getElementById('psdChart'), {
  type: 'line',
  data: { datasets },
  plugins: [matlabAxes],
  options: {
    responsive: false,
    animation: false,
    events: [],
    layout: { padding: { left: 31, right: 0, top: 0, bottom: 0 } },
    plugins: {
      legend: { display: false },
      tooltip: { enabled: false },
      title: {
        display: true,
        text: 'Transverse PSD',
        color: '#000000',
        font: { family: FONT, size: 24, weight: 'normal', lineHeight: 1.2 },
        padding: { top: 13, bottom: 4.2 }
      }
    },
    scales: {
      x: {
        type: 'logarithmic',
        position: 'bottom',
        min: 0.78125,
        max: 200,
        grid: { display: false },
        border: { display: false },
        ticks: { display: false },
        title: { display: true, text: 'Frequency [Hz]', color: TEXT,
                 font: { family: FONT, size: 24, lineHeight: 1.2 }, padding: { top: 0, bottom: 5 } },
        afterFit(scale) { scale.height = 74; }
      },
      y: {
        type: 'logarithmic',
        position: 'left',
        min: 1e-8,
        max: 1e-1,
        grid: { display: false },
        border: { display: false },
        ticks: { display: false },
        title: { display: true, text: 'PSD [g/Hz²]', color: TEXT,
                 font: { family: FONT, size: 24, lineHeight: 1.2 }, padding: { top: 0, bottom: 0 } },
        afterFit(scale) { scale.width = 78; }
      },
      yRight: {
        type: 'linear',
        position: 'right',
        display: true,
        grid: { display: false },
        border: { display: false },
        ticks: { display: false },
        afterFit(scale) { scale.width = 79; }
      }
    }
  }
});
</script>
</body>
</html>
